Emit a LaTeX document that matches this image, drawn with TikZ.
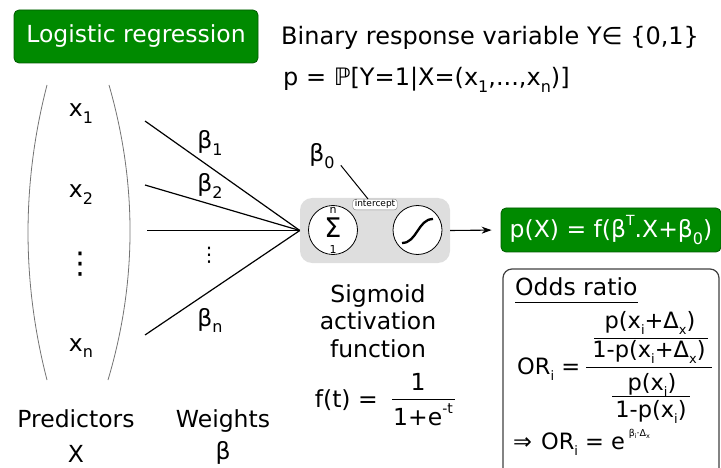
\documentclass[tikz,border=0pt]{standalone}
\usepackage{fontspec}
\setmainfont{DejaVu Sans}
\usetikzlibrary{arrows.meta,calc}
\newcommand{\sbs}[2][16]{\raisebox{-0.27em}{\fontsize{#1}{#1}\selectfont #2}}
\newcommand{\sps}[2][14]{\raisebox{0.5em}{\fontsize{#1}{#1}\selectfont #2}}
\definecolor{lrgreen}{HTML}{008A00}
\definecolor{lrgreenedge}{HTML}{005A00}
\begin{document}
\begin{tikzpicture}[x=1pt,y=-1pt,
  txt/.style={inner sep=0pt, font=\fontsize{23.5}{27.5}\selectfont},
  greenbox/.style={draw=lrgreenedge, fill=lrgreen, rounded corners=5pt, text=white,
    inner sep=0pt, line width=0.8pt, font=\fontsize{23.5}{27.5}\selectfont},
  wline/.style={line width=1.2pt},
  ring/.style={circle, draw, fill=white, minimum size=49pt, inner sep=0pt, line width=0.8pt},
  bracket/.style={draw=black!55, line width=0.8pt}]
\useasboundingbox (0,0) rectangle (721,468);

% title and header
\node[greenbox, minimum width=244pt, minimum height=53pt] (title) at (136,36.5) {Logistic regression};
\node[txt, anchor=base west, font=\fontsize{24}{28}\selectfont] (resp) at (281,45) {Binary response variable Y∈ \{0,1\}};
\node[txt, anchor=base west, font=\fontsize{24}{28}\selectfont] (prob) at (283,86) {p = ℙ[Y=1|X=(x\sbs{1},...,x\sbs{n})]};

% predictors bracket
\draw[bracket] (47,85) .. controls (21.7,183) and (21.7,282) .. (47,380);
\draw[bracket] (109,85) .. controls (137.2,183) and (137.2,282) .. (108,380);
\node[txt, anchor=base] (x1) at (81,117) {x\sbs{1}};
\node[txt, anchor=base] (x2) at (81,198) {x\sbs{2}};
\node[txt, font=\fontsize{30}{30}\selectfont] (xd) at (80,264) {⋮};
\node[txt, anchor=base] (xn) at (81,351) {x\sbs{n}};

% gray neuron box
\node[fill=black!13, rounded corners=12pt, minimum width=150pt, minimum height=65pt, inner sep=0pt] (gbox) at (375,230.5) {};
\node[ring] (sum) at (333,230) {};
\node[ring] (sig) at (417.5,230) {};
\node[txt, anchor=base, font=\fontsize{27}{27}\selectfont] (sigma) at (333,238) {Σ};
\node[txt, font=\fontsize{11}{11}\selectfont] (sn) at (333,210) {n};
\node[txt, font=\fontsize{11}{11}\selectfont] (s1) at (333,249.5) {1};
\draw[line width=2.3pt] (402,243) .. controls (417,243) and (418,219) .. (433,219);
\node[draw=black!50, fill=white, rounded corners=3pt, inner xsep=2pt, inner ysep=1pt,
  font=\fontsize{9}{9}\selectfont] (icpt) at (375,204.5) {intercept};

% weights
\coordinate (w1) at (145,121);
\coordinate (w2) at (145,185);
\coordinate (w3) at (147,230.5);
\coordinate (wn) at (145,335);
\draw[wline] (w1) -- (gbox.west);
\draw[wline] (w2) -- (gbox.west);
\draw[wline] (w3) -- (gbox.west);
\draw[wline] (wn) -- (gbox.west);
\node[txt, anchor=base] (b1) at (210,149) {β\sbs{1}};
\node[txt, anchor=base] (b2) at (210,192) {β\sbs{2}};
\node[txt, font=\fontsize{20}{20}\selectfont] (bd) at (209,255) {⋮};
\node[txt, anchor=base] (bn) at (210,326) {β\sbs{n}};

% intercept
\node[txt, anchor=base] (b0) at (322,162) {β\sbs{0}};
\draw[line width=1pt] ($(b0.east)+(6,9)$) -- ($(icpt.north)+(-7,0)$);

% output
\node[greenbox, minimum width=220pt, minimum height=44pt] (px) at (611,230) {p(X) = f(β\sps{T}.X+β\sbs{0})};
\draw[-{Stealth[length=10pt,width=7pt]}, line width=1.1pt, shorten >=9pt] (gbox.east) -- (px.west);

% sigmoid text
\node[txt, align=center, anchor=north] (sigl) at (378,284) {Sigmoid\\activation\\function};
\node[txt, anchor=base east] (ft) at (378,407) {f(t) =};
\node[txt, anchor=base] (fnum) at (418,390) {1};
\node[txt, anchor=base] (fden) at (423,425) {1+e\sps{-t}};
\draw[line width=0.9pt] (392,399) -- (455,399);

% bottom labels
\node[txt, anchor=base] (pred) at (76,427) {Predictors};
\node[txt, anchor=base] (predX) at (76,462) {X};
\node[txt, anchor=base] (wts) at (223,427) {Weights};
\node[txt, anchor=base] (wtsb) at (223,459) {β};

% odds ratio box
\draw[rounded corners=9pt, draw=black!75, line width=1.2pt] (503,269) rectangle (719,485);
\node[txt, anchor=base west] (odds) at (515,295) {Odds ratio};
\draw[line width=1pt] ($(odds.base west)+(0,7)$) -- ($(odds.base east)+(0,7)$);
\begin{scope}[txt/.append style={font=\fontsize{22.5}{26}\selectfont}]
\node[txt, anchor=base west] (ori) at (517,374) {OR\sbs[13]{i} =};
\node[txt, anchor=base] (n1) at (650,328) {p(x\sbs[13]{i}+Δ\sbs[13]{x})};
\draw[line width=0.9pt] (594,338) -- (708,338);
\node[txt, anchor=base] (n2) at (649,357) {1-p(x\sbs[13]{i}+Δ\sbs[13]{x})};
\draw[line width=0.9pt] (586,367) -- (712,367);
\node[txt, anchor=base] (d1) at (652,390) {p(x\sbs[13]{i})};
\draw[line width=0.9pt] (612,396) -- (690,396);
\node[txt, anchor=base] (d2) at (651,417) {1-p(x\sbs[13]{i})};
\node[txt, anchor=base west] (impl) at (513,449) {⇒\hspace{9pt}OR\sbs[13]{i} = e\,\raisebox{0.55em}{\fontsize{9.5}{9.5}\selectfont β\raisebox{-0.2em}{\fontsize{6.5}{6.5}\selectfont i}·Δ\raisebox{-0.2em}{\fontsize{6.5}{6.5}\selectfont x}}};
\end{scope}
\end{tikzpicture}
\end{document}
